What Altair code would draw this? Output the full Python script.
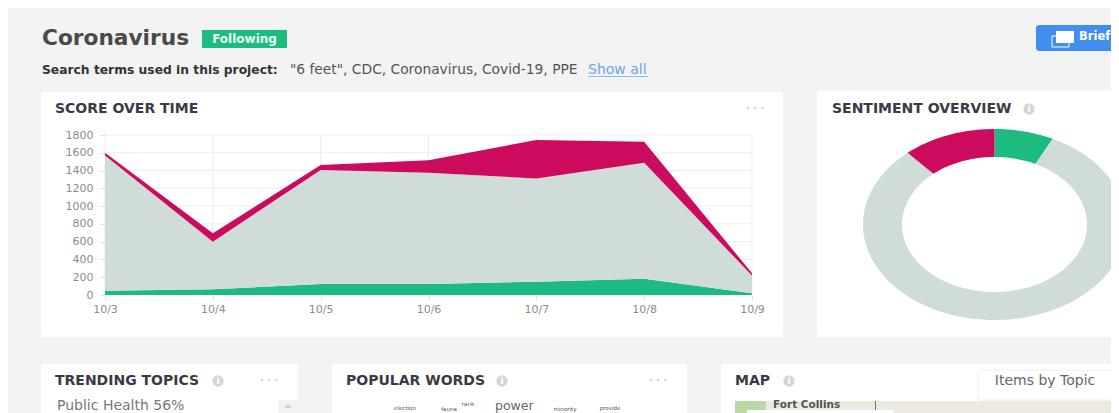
import math
import altair as alt
import pandas as pd

# ---- data ----
days = ["10/3", "10/4", "10/5", "10/6", "10/7", "10/8", "10/9"]
positive = [49, 64, 124, 124, 150, 184, 19]
neutral = [1521, 536, 1282, 1252, 1162, 1305, 199]
negative = [30, 94, 56, 139, 432, 236, 26]
y_ticks = [0, 200, 400, 600, 800, 1000, 1200, 1400, 1600, 1800]
sentiment_names = ["Positive", "Neutral", "Negative"]
sentiment_shares = [7.3, 81.2, 11.5]

GREEN, GREY, RED = "#1dbb7f", "#cfdcd8", "#cc0a5e"
BG = "#f3f3f3"
W, H = 1103, 405
OX, OY = 8, 8  # page margin: reference pixel minus this = chart pixel
SANS = "DejaVu Sans"


def px(v):
    return v - OX


def py(v):
    return v - OY


def box(x0, y0, x1, y1, fill, radius=0, stroke=None):
    kw = dict(fill=fill, cornerRadius=radius)
    if stroke:
        kw["stroke"] = stroke
    return alt.Chart(pd.DataFrame({"a": [0]})).mark_rect(**kw).encode(
        x=alt.value(px(x0)), x2=alt.value(px(x1)),
        y=alt.value(py(y0)), y2=alt.value(py(y1)),
    )


def label(x, y, s, size=12, color="#444", weight="normal", font=SANS, align="left"):
    return alt.Chart(pd.DataFrame({"t": [s]})).mark_text(
        align=align, baseline="middle", fontSize=size, color=color,
        fontWeight=weight, font=font,
    ).encode(x=alt.value(px(x)), y=alt.value(py(y)), text="t:N")


def heading(x, y, s, size=14):
    return label(x, y, s, size=size, color="#3a3a44", weight="bold")


def info(x, y):
    dot = alt.Chart(pd.DataFrame({"a": [0]})).mark_point(
        filled=True, size=130, color="#d6d6d6", opacity=1
    ).encode(x=alt.value(px(x)), y=alt.value(py(y)))
    return [dot, label(x, y, "i", size=9, color="#ffffff", weight="bold", align="center")]


def dots(x, y):
    return label(x, y, "\u2022 \u2022 \u2022", size=8, color="#d4d4d4", align="center")


# ---- panels ----
layers = [
    box(41, 92, 783, 337, "#ffffff", 2),
    box(817, 91, 1125, 337, "#ffffff", 2),
    box(41, 364, 298, 420, "#ffffff", 2),
    box(332, 364, 687, 420, "#ffffff", 2),
    box(721, 364, 1125, 420, "#ffffff", 2),
]

# ---- stacked area chart ----
long = pd.DataFrame(
    [{"day": d, "series": s, "rank": r, "value": v}
     for r, (s, vals) in enumerate([("Positive", positive), ("Neutral", neutral), ("Negative", negative)])
     for d, v in zip(days, vals)]
)
x_scale = alt.Scale(type="point", domain=days, range=[px(105), px(752)], padding=0)
y_scale = alt.Scale(domain=[0, 1800], range=[py(295), py(135)], nice=False, zero=False)

y_axis = alt.Axis(
    values=y_ticks, format="d", grid=False, domain=False, tickColor="#dddddd", tickSize=5, labelPadding=7,
    labelColor="#8c8c8c", labelFont=SANS, labelFontSize=11, title=None, offset=-px(105), zindex=1,
)
x_axis = alt.Axis(
    grid=False, domain=False, tickColor="#dddddd", tickSize=5, labelPadding=3, labelAngle=0,
    labelColor="#8c8c8c", labelFont=SANS, labelFontSize=11, title=None,
    offset=-(H - py(295)), zindex=1,
)

h_grid = alt.Chart(pd.DataFrame({"v": y_ticks})).mark_rule(color="#eeeeee", strokeWidth=1).encode(
    y=alt.Y("v:Q", scale=y_scale, axis=y_axis),
    x=alt.datum(days[0], scale=x_scale, type="ordinal", axis=x_axis),
    x2=alt.datum(days[-1]),
)
v_grid = alt.Chart(pd.DataFrame({"d": days})).mark_rule(color="#eeeeee", strokeWidth=1).encode(
    x=alt.X("d:O", scale=x_scale, axis=x_axis),
    y=alt.datum(0, scale=y_scale, type="quantitative", axis=y_axis),
    y2=alt.datum(1800),
)
areas = alt.Chart(long).mark_area(opacity=1, interpolate="linear").encode(
    x=alt.X("day:O", scale=x_scale, axis=x_axis),
    y=alt.Y("value:Q", stack="zero", scale=y_scale, axis=y_axis),
    color=alt.Color("series:N", legend=None, scale=alt.Scale(
        domain=["Positive", "Neutral", "Negative"], range=[GREEN, GREY, RED])),
    order=alt.Order("rank:Q", sort="ascending"),
)
layers += [h_grid, v_grid, areas]

# ---- donut, stretched to an ellipse as in the picture ----
CX, CY, RX, RY, IX, IY = px(994.5), py(224.5), 131.5, 95.5, 92.5, 67.5
features, start = [], 0.0
total = sum(sentiment_shares)
for name, share in zip(sentiment_names, sentiment_shares):
    end = start + share / total * 2 * math.pi
    n = max(2, int((end - start) * 40))
    angles = [start + (end - start) * i / n for i in range(n + 1)]
    outer = [[CX + RX * math.sin(a), CY - RY * math.cos(a)] for a in angles]
    inner = [[CX + IX * math.sin(a), CY - IY * math.cos(a)] for a in reversed(angles)]
    ring = outer + inner + [outer[0]]
    features.append({"type": "Feature", "properties": {"name": name},
                     "geometry": {"type": "Polygon", "coordinates": [ring]}})
    start = end
donut = alt.Chart(alt.Data(values=features)).mark_geoshape(strokeWidth=0).encode(
    color=alt.Color("properties.name:N", legend=None, scale=alt.Scale(
        domain=["Positive", "Neutral", "Negative"], range=[GREEN, GREY, RED]))
).project(type="identity", scale=1, translate=[0, 0])
layers.append(donut)

# ---- header and the other cards ----
layers += [
    label(42, 38, "Coronavirus", size=21.7, color="#4a4a4a", weight="bold"),
    box(202, 30, 287, 48, GREEN, 1),
    label(244.5, 39, "Following", size=12, color="#e8fff6", weight="bold", align="center"),
    label(42, 70, "Search terms used in this project:", size=12.3, color="#333", weight="bold"),
    label(290, 70, "\"6 feet\", CDC, Coronavirus, Covid-19, PPE", size=13.8, color="#555"),
    label(588, 70, "Show all", size=14, color="#6aa5ea"),
    box(588, 76, 648, 77, "#8fbcf0"),
    box(1036, 25, 1125, 51, "#3f8ef0", 3),
    box(1052, 36, 1069, 47, "#3f8ef0", 0, "#ffffff"),
    box(1056, 31, 1074, 43, "#ffffff"),
    label(1079, 37, "Brief", size=11.5, color="#ffffff", weight="bold"),
    heading(55, 109, "SCORE OVER TIME"),
    dots(755, 109),
    heading(832, 109, "SENTIMENT OVERVIEW"),
    *info(1029, 109),
    heading(55, 381, "TRENDING TOPICS"),
    *info(218, 381),
    dots(269, 381),
    heading(346, 381, "POPULAR WORDS"),
    *info(502, 381),
    dots(658, 381),
    heading(735, 381, "MAP"),
    *info(789, 381),
    box(978, 370, 1113, 400, "#ffffff", 3, "#eeeeee"),
    label(1045, 381, "Items by Topic", size=14, color="#666", align="center"),
    label(57, 406, "Public Health 56%", size=14, color="#777"),
    box(278, 400, 298, 420, "#f3f3f3"),
    label(288, 409, "^", size=9, color="#999", align="center"),
    label(495, 405.5, "power", size=12.5, color="#666"),
    label(405, 408, "election", size=5.5, color="#555", align="center"),
    label(449, 409, "fauna", size=5.5, color="#555", align="center"),
    label(468, 404, "rank", size=5.5, color="#555", align="center"),
    label(565, 409, "minority", size=5.5, color="#555", align="center"),
    label(610, 408, "provide", size=5.5, color="#555", align="center"),
    box(735, 401, 1113, 420, "#ece9df"),
    box(735, 401, 766, 420, "#b9d8a6"),
    box(875, 401, 876, 410, "#777777"),
    label(773, 405, "Fort Collins", size=10.5, color="#555", weight="bold"),
    box(747, 410, 893, 420, "#ffffff"),
]

chart = alt.layer(*layers).properties(
    width=W, height=H, padding=0,
    autosize=alt.AutoSizeParams(type="none"),
    background=BG,
).resolve_scale(color="independent").configure_view(stroke=None)

chart.save("out.html", embed_options={"renderer": "svg", "actions": False})
